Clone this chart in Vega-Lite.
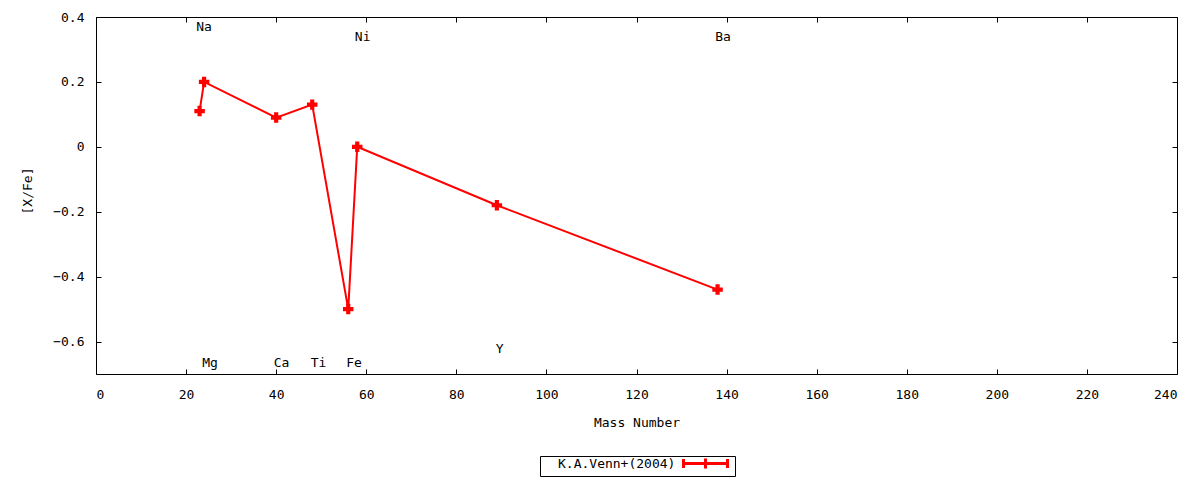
{
  "$schema": "https://vega.github.io/schema/vega-lite/v6.json",
  "width": 1081,
  "height": 357,
  "autosize": {"type": "none"},
  "padding": {"left": 96, "top": 17, "right": 23, "bottom": 106},
  "background": "white",
  "datasets": {
    "abund": [
      {"el": "Na", "mass": 23, "xfe": 0.11, "series": "K.A.Venn+(2004)"},
      {"el": "Mg", "mass": 24, "xfe": 0.2, "series": "K.A.Venn+(2004)"},
      {"el": "Ca", "mass": 40, "xfe": 0.09, "series": "K.A.Venn+(2004)"},
      {"el": "Ti", "mass": 48, "xfe": 0.13, "series": "K.A.Venn+(2004)"},
      {"el": "Fe", "mass": 56, "xfe": -0.5, "series": "K.A.Venn+(2004)"},
      {"el": "Ni", "mass": 58, "xfe": 0.0, "series": "K.A.Venn+(2004)"},
      {"el": "Y", "mass": 89, "xfe": -0.18, "series": "K.A.Venn+(2004)"},
      {"el": "Ba", "mass": 138, "xfe": -0.44, "series": "K.A.Venn+(2004)"}
    ],
    "labels": [
      {"el": "Na", "lx": 24.0, "ly": 0.368},
      {"el": "Mg", "lx": 25.3, "ly": -0.665},
      {"el": "Ca", "lx": 41.2, "ly": -0.665},
      {"el": "Ti", "lx": 49.4, "ly": -0.665},
      {"el": "Fe", "lx": 57.3, "ly": -0.665},
      {"el": "Ni", "lx": 59.2, "ly": 0.338},
      {"el": "Y", "lx": 89.6, "ly": -0.622},
      {"el": "Ba", "lx": 139.2, "ly": 0.338}
    ]
  },
  "layer": [
    {
      "layer": [
        {
          "data": {"name": "abund"},
          "mark": {"type": "line", "strokeWidth": 2},
          "encoding": {
            "x": {
              "field": "mass", "type": "quantitative",
              "scale": {"domain": [0, 240], "nice": false, "zero": false},
              "axis": {"orient": "bottom", "values": [0, 20, 40, 60, 80, 100, 120, 140, 160, 180, 200, 220, 240], "title": "Mass Number", "labelPadding": 19, "titlePadding": 15}
            },
            "y": {
              "field": "xfe", "type": "quantitative",
              "scale": {"domain": [-0.7, 0.4], "nice": false, "zero": false},
              "axis": {"orient": "left", "values": [-0.6, -0.4, -0.2, 0, 0.2, 0.4], "labelExpr": "datum.value == 0 ? '0' : datum.label", "title": "[X/Fe]", "labelPadding": 17, "titlePadding": 18, "titleY": 173.5}
            },
            "color": {
              "field": "series", "type": "nominal",
              "scale": {"range": ["#ff0000"]},
              "legend": {
                "title": null,
                "orient": "none",
                "legendX": 444,
                "legendY": 439,
                "padding": 1,
                "strokeColor": "black",
                "symbolType": "M-4.4,0H4.4M-4.4,-0.9V0.9M4.4,-0.9V0.9M0,-1V1",
                "symbolSize": 100,
                "symbolStrokeWidth": 3,
                "symbolStrokeColor": "#ff0000",
                "symbolFillColor": "transparent",
                "symbolOffset": 158,
                "labelOffset": -154,
                "labelFontSize": 13,
                "labelFont": "DejaVu Sans Mono",
                "labelColor": "black"
              }
            }
          }
        },
        {
          "data": {"name": "abund"},
          "mark": {"type": "point", "shape": "cross", "filled": true, "size": 110, "color": "#ff0000", "opacity": 1},
          "encoding": {
            "x": {"field": "mass", "type": "quantitative"},
            "y": {"field": "xfe", "type": "quantitative"}
          }
        },
        {
          "data": {"name": "labels"},
          "mark": {"type": "text", "font": "DejaVu Sans Mono", "fontSize": 13, "color": "black", "baseline": "middle", "align": "center"},
          "encoding": {
            "x": {"field": "lx", "type": "quantitative"},
            "y": {"field": "ly", "type": "quantitative"},
            "text": {"field": "el"}
          }
        }
      ]
    },
    {
      "data": {"name": "abund"},
      "mark": {"type": "point", "opacity": 0},
      "encoding": {
        "x": {
          "field": "mass", "type": "quantitative",
          "scale": {"domain": [0, 240], "nice": false, "zero": false},
          "axis": {"orient": "top", "values": [0, 20, 40, 60, 80, 100, 120, 140, 160, 180, 200, 220, 240], "labels": false, "title": null}
        },
        "y": {
          "field": "xfe", "type": "quantitative",
          "scale": {"domain": [-0.7, 0.4], "nice": false, "zero": false},
          "axis": {"orient": "right", "values": [-0.6, -0.4, -0.2, 0, 0.2, 0.4], "labels": false, "title": null}
        }
      }
    }
  ],
  "resolve": {"scale": {"x": "independent", "y": "independent"}},
  "config": {
    "font": "DejaVu Sans Mono",
    "view": {"stroke": "black", "strokeWidth": 1},
    "axis": {
      "domain": false,
      "grid": false,
      "ticks": true,
      "tickColor": "black",
      "tickSize": -5,
      "tickWidth": 1,
      "labelFont": "DejaVu Sans Mono",
      "labelFontSize": 13,
      "labelColor": "black",
      "titleFont": "DejaVu Sans Mono",
      "titleFontSize": 13,
      "titleFontWeight": "normal",
      "titleColor": "black"
    }
  }
}
